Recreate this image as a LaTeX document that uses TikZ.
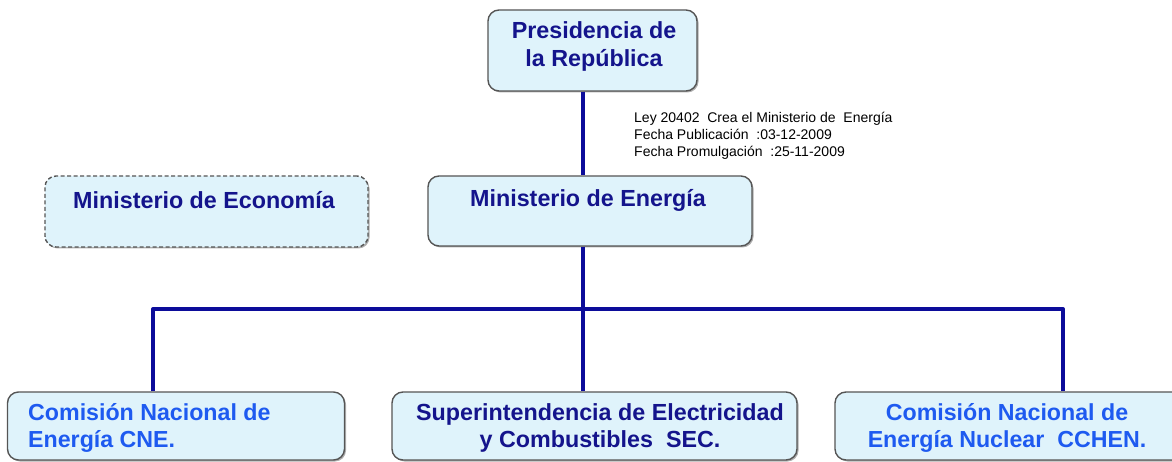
\documentclass[tikz,border=0pt]{standalone}
\usepackage{fontspec}
\setmainfont{Liberation Sans}
\usetikzlibrary{shadows}
\definecolor{navytxt}{HTML}{14148C}
\definecolor{bluetxt}{HTML}{1E5AF0}
\definecolor{boxfill}{HTML}{DFF3FB}
\definecolor{boxline}{HTML}{555555}
\definecolor{linkcol}{HTML}{0C0C9A}
\tikzset{
  orgbox/.style={draw=boxline, line width=1.4pt, fill=boxfill, rounded corners=11pt,
    drop shadow={shadow xshift=1.5pt, shadow yshift=-1.5pt, opacity=0.45, fill=black!70}},
  dashbox/.style={orgbox, dashed, dash pattern=on 4pt off 2.5pt},
  navylabel/.style={text=navytxt, font=\fontsize{23.3}{28}\selectfont\bfseries, align=center, inner sep=0pt},
  bluelabel/.style={text=bluetxt, font=\fontsize{23.2}{27}\selectfont\bfseries, inner sep=0pt},
  link/.style={draw=linkcol, line width=4pt},
  note/.style={font=\fontsize{14}{17}\selectfont, align=left, inner sep=0pt, anchor=north west}
}
\begin{document}
\begin{tikzpicture}[x=1pt,y=-1pt]
\useasboundingbox (0,0) rectangle (1172,462);
% boxes
\node[orgbox, minimum width=209pt, minimum height=81pt] (pres) at (592.5,50.5) {};
\node[orgbox, minimum width=324pt, minimum height=70pt] (energia) at (590,211) {};
\node[dashbox, minimum width=323pt, minimum height=71pt] (economia) at (206.5,211.5) {};
\node[orgbox, minimum width=337pt, minimum height=68pt] (cne) at (176,426) {};
\node[orgbox, minimum width=405pt, minimum height=68pt] (sec) at (594.5,426) {};
\node[orgbox, minimum width=360pt, minimum height=68pt] (cchen) at (1015,426) {};
% junction coordinates
\coordinate (jc) at (583,309);
\coordinate (jl) at (153,309);
\coordinate (jr) at (1063,309);
% connectors
\draw[link] (pres.south -| jc) -- (energia.north -| jc);
\draw[link] (energia.south -| jc) -- (sec.north -| jc);
\draw[link, line join=round] (cne.north -| jl) -- (jl) -- (jr) -- (cchen.north -| jr);
% texts
\node[navylabel] (tpres) at (594,46) {Presidencia de\\la República};
\node[navylabel] (tenergia) at (588,200) {Ministerio de Energía};
\node[navylabel] (teconomia) at (204,200) {Ministerio de Economía};
\node[navylabel, font=\fontsize{23.3}{27}\selectfont\bfseries] (tsec) at (600,428) {Superintendencia de Electricidad\\y Combustibles\ \ SEC.};
\node[bluelabel, align=left, anchor=west] (tcne) at (28,428) {Comisión Nacional de\\Energía CNE.};
\node[bluelabel, align=center] (tcchen) at (1007,428) {Comisión Nacional de\\Energía Nuclear\ \ CCHEN.};
\node[note] (nota) at (634,112) {Ley 20402\ \ Crea el Ministerio de\ \ Energía\\Fecha Publicación\ \ :03-12-2009\\Fecha Promulgación\ \ :25-11-2009};
\end{tikzpicture}
\end{document}
